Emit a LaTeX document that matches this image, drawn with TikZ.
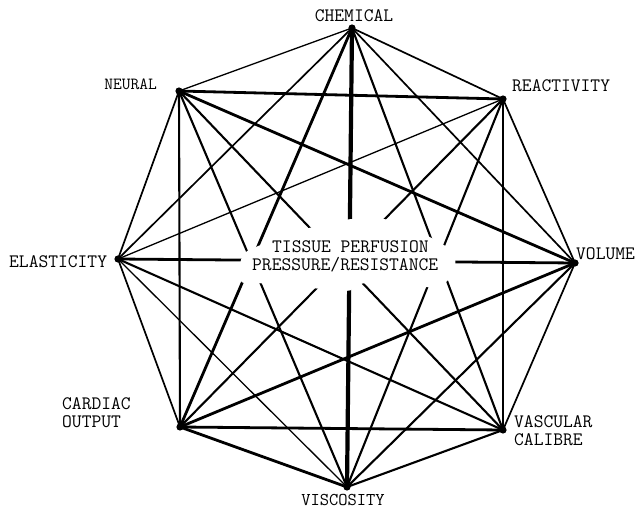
\documentclass[tikz,border=0pt]{standalone}
\usepackage{fontspec}
\begin{document}
\begin{tikzpicture}[x=1pt,y=-1pt,
  edge/.style={line cap=round,line join=round,black},
  ea/.style={edge,line width=1.3pt},
  eb/.style={edge,line width=1.7pt},
  ec/.style={edge,line width=2.1pt},
  ed/.style={edge,line width=2.8pt},
  ee/.style={edge,line width=4.2pt},
  lab/.style={inner sep=0pt,font=\ttfamily\fontsize{19}{20}\selectfont},
  labm/.style={inner sep=0pt,font=\ttfamily\fontsize{18}{19}\selectfont},
  labs/.style={inner sep=0pt,font=\ttfamily\fontsize{17}{18}\selectfont}]
\useasboundingbox (0,0) rectangle (638,508);
% vertices
\coordinate (C)  at (352,28);
\coordinate (R)  at (503,99);
\coordinate (Vo) at (575,263);
\coordinate (Va) at (503,430);
\coordinate (Vi) at (347,487);
\coordinate (Ca) at (180,427);
\coordinate (E)  at (118,259);
\coordinate (N)  at (179,91);
% perimeter
\draw[ea] (N) -- (C);
\draw[eb] (C) -- (R);
\draw[eb] (R) -- (Vo);
\draw[eb] (Vo) -- (Va);
\draw[ec] (Va) -- (Vi);
\draw[ed] (Vi) -- (Ca);
\draw[eb] (Ca) -- (E);
\draw[eb] (E) -- (N);
% skip two
\draw[ed] (N) -- (R);
\draw[eb] (R) -- (Va);
\draw[ed] (Va) -- (Ca);
\draw[ec] (Ca) -- (N);
\draw[eb] (C) -- (Vo);
\draw[ec] (Vo) -- (Vi);
\draw[ea] (Vi) -- (E);
\draw[eb] (E) -- (C);
% skip three
\draw[ed] (N) -- (Vo);
\draw[ed] (Ca) -- (Vo);
\draw[ea] (E) -- (R);
\draw[ec] (E) -- (Va);
\draw[ec] (C) -- (Va);
\draw[ed] (C) -- (Ca);
\draw[ec] (R) -- (Vi);
\draw[ec] (N) -- (Vi);
% diameters
\draw[ee] (C) -- (Vi);
\draw[ed] (E) -- (Vo);
\draw[ec] (N) -- (Va);
\draw[ec] (R) -- (Ca);
% vertex dots
\foreach \v in {C,R,Vo,Va,Vi,Ca,E,N} \fill (\v) circle (3.6);
% central clearing
\fill[white,rounded corners=3pt] (241,259) -- (245,252) -- (258,246) -- (300,230)
  -- (350,219) -- (386,219) -- (432,238) -- (452,250) -- (456,262) -- (452,276)
  -- (440,288) -- (362,283) -- (350,291) -- (322,289) -- (258,283) -- (241,283)
  -- (239,270) -- cycle;
% centre text
\node[lab,anchor=base west] (t1) at (272,252) {TISSUE PERFUSION};
\node[lab,anchor=base west] (t2) at (252,270) {PRESSURE/RESISTANCE};
% labels
\node[lab,anchor=base] (lC) at (354,22) {CHEMICAL};
\node[labs,anchor=base east] (lN) at (157,90) {NEURAL};
\node[lab,anchor=base west] (lR) at (512,92) {REACTIVITY};
\node[lab,anchor=base west] (lE) at (9,268) {ELASTICITY};
\node[lab,anchor=base west] (lVo) at (576,260) {VOLUME};
\node[lab,anchor=base west] (lCa1) at (62,409) {CARDIAC};
\node[lab,anchor=base west] (lCa2) at (62,427) {OUTPUT};
\node[lab,anchor=base west] (lVa1) at (514,427) {VASCULAR};
\node[lab,anchor=base west] (lVa2) at (514,445) {CALIBRE};
\node[labm,anchor=base] (lVi) at (343,505) {VISCOSITY};
\end{tikzpicture}
\end{document}
